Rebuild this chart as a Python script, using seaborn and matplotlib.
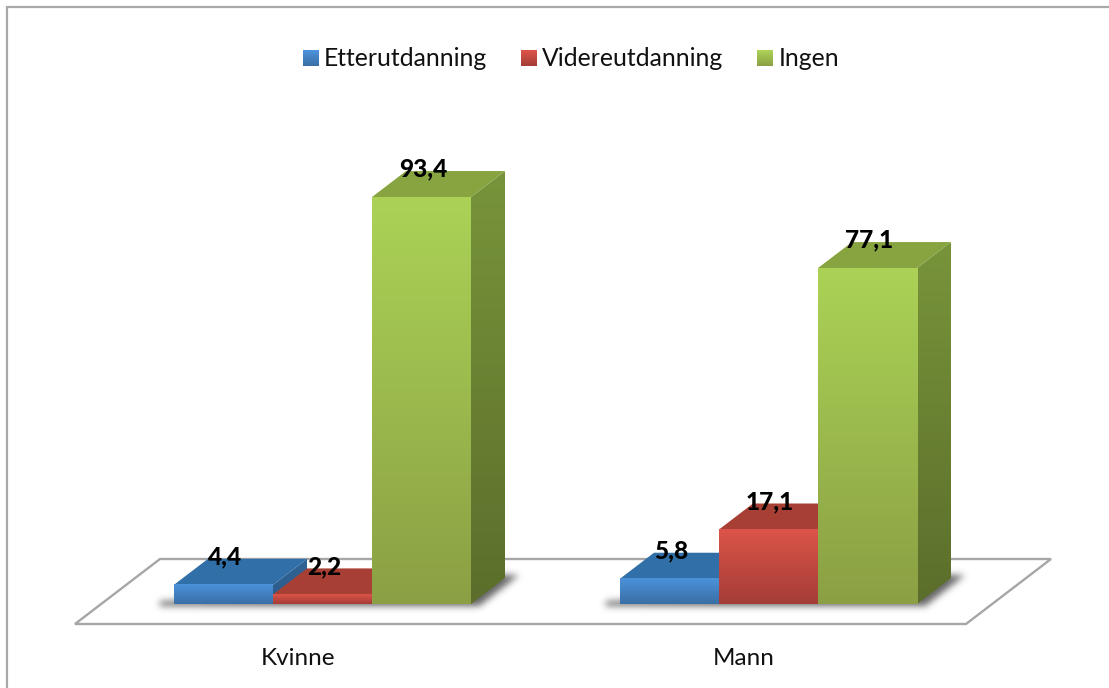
import numpy as np
import pandas as pd
import matplotlib
matplotlib.use("Agg")
import matplotlib.pyplot as plt
import seaborn as sns
from matplotlib.colors import to_rgb
from matplotlib.legend_handler import HandlerBase
from matplotlib.patches import Polygon, Rectangle
from matplotlib.path import Path
from matplotlib.transforms import Affine2D, ScaledTranslation

# Survey shares per gender and type of further education
genders = ["Kvinne", "Mann"]
education = ["Etterutdanning", "Videreutdanning", "Ingen"]
etterutdanning = [4.4, 5.8]
videreutdanning = [2.2, 17.1]
ingen = [93.4, 77.1]

W, H = 1109, 688
FONT = "Lato"

# top colour, bottom colour of each front face; top face; side top, side bottom
front = {"Etterutdanning": ("#4b92da", "#3a6fa6"),
         "Videreutdanning": ("#dc5449", "#a43d37"),
         "Ingen": ("#abd256", "#8ba044")}
roof = {"Etterutdanning": "#316fa8", "Videreutdanning": "#a83f34", "Ingen": "#87a440"}
side = {"Etterutdanning": ("#2f6496", "#2c5c8a"),
        "Videreutdanning": ("#8e352d", "#7a2d27"),
        "Ingen": ("#78943a", "#5b6e2b")}

sns.set_theme(style="white")
plt.rcParams["font.family"] = [FONT, "DejaVu Sans"]

frame = pd.DataFrame({
    "gender": genders * 3,
    "education": np.repeat(education, 2),
    "value": etterutdanning + videreutdanning + ingen,
})

fig = plt.figure(figsize=(W / 100, H / 100), dpi=100, facecolor="white")
# Plot area in pixel terms: one category spans 446 px, one percent spans 4.357 px
ax = fig.add_axes([99.5 / W, 1 - 604 / H, 892 / W, 435.7 / H])
ax.patch.set_visible(False)

sns.barplot(data=frame, x="gender", y="value", hue="education",
            order=genders, hue_order=education,
            palette={k: v[1] for k, v in front.items()},
            width=297 / 446, gap=0, dodge=True, legend=False,
            edgecolor="none", linewidth=0, ax=ax)
ax.set_xlim(-0.5, 1.5)
ax.set_ylim(0, 100)
sns.despine(ax=ax, left=True, bottom=True)
ax.set_xlabel("")
ax.set_ylabel("")
ax.set_yticks([])

px = Affine2D().scale(1, -1).translate(0, H)


def ramp(c0, c1, n=64):
    a, b = np.array(to_rgb(c0)), np.array(to_rgb(c1))
    return np.linspace(a, b, n)[:, None, :]


def soft_shadow(vertices, box, sigma=3.5, strength=0.8):
    """RGBA array of a gaussian-blurred polygon over a pixel box (left, right, top, bottom)."""
    left, right, top, bottom = box
    gx, gy = np.meshgrid(np.arange(left, right) + 0.5, np.arange(top, bottom) + 0.5)
    inside = Path(vertices).contains_points(np.c_[gx.ravel(), gy.ravel()])
    mask = inside.reshape(gx.shape).astype(float)
    r = np.arange(-12, 13)
    kernel = np.exp(-r ** 2 / (2 * sigma ** 2))
    kernel /= kernel.sum()
    mask = np.apply_along_axis(np.convolve, 0, mask, kernel, mode="same")
    mask = np.apply_along_axis(np.convolve, 1, mask, kernel, mode="same")
    rgba = np.zeros(mask.shape + (4,))
    rgba[..., :3] = 0.25
    rgba[..., 3] = mask * strength
    return rgba


# Outer frame, open towards the right and bottom edges
for xs, ys in (((7, 7), (H, 7)), ((7, W), (7, 7))):
    ax.plot(xs, ys, transform=px, color="#a8a8a8", lw=1.6, clip_on=False, zorder=0.5)

# Floor plate
ax.add_patch(Polygon([(75, 624), (966, 624), (1051, 559), (160, 559)], closed=True,
                     transform=px, facecolor="white", edgecolor="#a6a6a6",
                     lw=1.7, clip_on=False, zorder=0.6))

# Depth of the blocks, expressed in data units
dx = 34 / 446
dy = 26 / 4.357

# Soft shadow on the floor around each group
groups_x = {}
for container in ax.containers:
    for i, bar in enumerate(container):
        lo, hi = groups_x.get(i, (np.inf, -np.inf))
        groups_x[i] = (min(lo, bar.get_x()), max(hi, bar.get_x() + bar.get_width()))
to_data = ax.transData.inverted()
for lo, hi in groups_x.values():
    x0 = ax.transData.transform((lo, 0))[0]
    x1 = ax.transData.transform((hi, 0))[0]
    box = (int(x0) - 40, int(x1) + 80, 555, 625)
    shape = [(x0 - 14, 601), (x0 - 14, 606), (x1 + 8, 606), (x1 + 48, 575),
             (x1 + 20, 575), (x1, 590)]
    a = to_data.transform((box[0], H - box[3]))
    b = to_data.transform((box[1], H - box[2]))
    ax.imshow(soft_shadow(shape, box), extent=(a[0], b[0], a[1], b[1]), aspect="auto",
              interpolation="bilinear", zorder=0.8, clip_on=False)

# Blocks are painted left to right so nearer faces cover the ones behind them
for h, (name, container) in enumerate(zip(education, ax.containers)):
    base = 2 + h
    for bar in container:
        x = bar.get_x()
        w = bar.get_width()
        v = bar.get_height()
        bar.set_zorder(base)
        ax.imshow(ramp(*front[name]), extent=(x, x + w, 0, v), aspect="auto",
                  interpolation="bilinear", zorder=base + 0.3, clip_on=False)
        ax.add_patch(Polygon([(x, v), (x + w, v), (x + w + dx, v + dy), (x + dx, v + dy)],
                             closed=True, facecolor=roof[name], edgecolor="none",
                             clip_on=False, zorder=base + 0.2))
        outline = Polygon([(x + w, 0), (x + w + dx, dy), (x + w + dx, v + dy), (x + w, v)],
                          closed=True, transform=ax.transData, facecolor="none",
                          edgecolor="none")
        ax.add_patch(outline)
        shade = ax.imshow(ramp(*side[name]), extent=(x + w, x + w + dx, 0, v + dy),
                          aspect="auto", interpolation="bilinear",
                          zorder=base + 0.1, clip_on=True)
        shade.set_clip_path(outline)
        # Value label above the block
        ax.annotate(f"{v:.1f}".replace(".", ","), (x + w / 2, v),
                    xytext=(1, 28 * 0.72), textcoords="offset points",
                    ha="center", va="center", fontsize=17.6, fontweight=900,
                    color="black", annotation_clip=False, zorder=10)

ax.set_xlim(-0.5, 1.5)
ax.set_ylim(0, 100)

# Category names sit left of the group centre, below the floor plate
ax.tick_params(axis="x", length=0, pad=31.5, labelsize=17.5, labelcolor="#111111")
for label in ax.get_xticklabels():
    label.set_transform(label.get_transform()
                        + ScaledTranslation(-24.5 / 100, 0, fig.dpi_scale_trans))


class RampHandler(HandlerBase):
    """Legend key drawn as a stack of thin strips forming a vertical gradient."""

    def __init__(self, colours):
        super().__init__()
        self.colours = colours

    def create_artists(self, legend, orig_handle, xdescent, ydescent,
                       width, height, fontsize, trans):
        c0, c1 = self.colours[orig_handle.get_label()]
        rows = ramp(c0, c1, 16)[:, 0, :]
        step = height / len(rows)
        return [Rectangle((-xdescent, -ydescent + height - (i + 1) * step), width, step * 1.05,
                          facecolor=c, edgecolor="none", transform=trans)
                for i, c in enumerate(rows)]


handles = [Rectangle((0, 0), 1, 1, label=name) for name in education]

fig.legend(handles=handles, labels=education, ncol=3, frameon=False,
           loc="center left", bbox_to_anchor=(303 / W, 1 - 59 / H),
           prop={"family": FONT, "size": 17.85}, labelcolor="#111111",
           borderpad=0, borderaxespad=0, handlelength=0.645, handleheight=0.645,
           handletextpad=0.2, columnspacing=1.37,
           handler_map={Rectangle: RampHandler(front)})

fig.savefig("out.png", dpi=100, facecolor="white")
